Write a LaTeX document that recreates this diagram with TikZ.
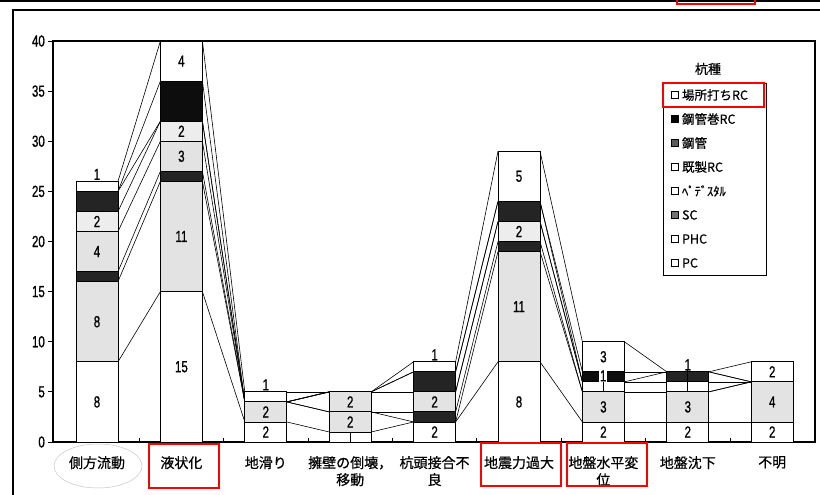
\documentclass[tikz,border=0pt]{standalone}
\usepackage{fontspec}
\newfontfamily\cjk[FakeBold=0.6]{Noto Sans CJK JP}
\newfontfamily\numf[FakeStretch=0.72, FakeBold=0.8]{Liberation Sans}
\usetikzlibrary{positioning}

\tikzset{
	seg/.style={draw=black, line width=0.9pt},
	wht/.style={seg, fill=white},
	dot/.style={seg, fill=black!11},
	lite/.style={seg, fill=black!7},
	dark/.style={seg, fill=black!86},
	blk/.style={seg, fill=black!95},
	val/.style={font=\numf\fontsize{16}{16}\selectfont, inner sep=0pt},
	cat/.style={font=\cjk\fontsize{14}{17}\selectfont, align=center, anchor=north, inner sep=0pt},
	key/.style={font=\cjk\fontsize{12.5}{12.5}\selectfont, anchor=west, inner sep=0pt},
	swatch/.style={draw=black, line width=0.7pt, minimum size=7pt, inner sep=0pt},
	redbox/.style={draw=red, line width=2.2pt},
	sline/.style={line width=0.6pt}
}

\begin{document}
\begin{tikzpicture}[x=1pt, y=-1pt]
	\useasboundingbox (0,0) rectangle (820,495);
	\draw[line width=2pt] (0,1) -- (820,1);
	\draw[redbox] (677,-4) rectangle (755,4);
	\draw[line width=1.1pt] (13,495) -- (13,10) -- (820,10);
	\draw[gray!45, line width=0.5pt] (98,466) ellipse (44pt and 22pt);
	\draw[line width=1.1pt] (53,41) rectangle (815,442);
	\begin{scope}[shift={(0,442)}, y=10.025pt]
		\foreach \v in {0,5,...,40} {
			\draw[line width=0.9pt] (48,\v) -- (53,\v);
			\node[val, anchor=east] (tick\v) at (45,\v) {\v};
		}
		\foreach \k in {1,...,8}
			\draw[line width=0.8pt] (139.2+84.4*\k-84.4,0) -- (139.2+84.4*\k-84.4,0.4);
		\foreach \i/\segs in {
				1/{0/8/wht,8/16/dot,16/17/dark,17/21/dot,21/23/lite,23/25/dark,25/26/wht},
				2/{0/15/wht,15/26/dot,26/27/dark,27/30/dot,30/32/lite,32/36/blk,36/40/wht},
				3/{0/2/wht,2/4/dot,4/5/wht},
				4/{0/1/wht,1/3/dot,3/5/dot},
				5/{0/2/wht,2/3/dark,3/5/dot,5/7/dark,7/8/wht},
				6/{0/8/wht,8/19/dot,19/20/dark,20/22/lite,22/24/dark,24/29/wht},
				7/{0/2/wht,2/5/dot,5/6/wht,6/7/blk,7/10/wht},
				8/{0/2/wht,2/5/dot,5/6/wht,6/7/dark},
				9/{0/2/wht,2/6/dot,6/8/wht}} {
			\pgfmathsetmacro\cx{97+84.4*(\i-1)}
			\foreach \b/\t/\s in \segs
				\draw[\s] (\cx-21,\b) rectangle (\cx+21,\t);
		}
		\foreach \i/\cums in {
				1/{8,16,17,21,23,25,25,26},
				2/{15,26,27,30,32,32,36,40},
				3/{2,4,4,4,4,4,4,5},
				4/{1,3,3,5,5,5,5,5},
				5/{2,2,3,5,5,7,7,8},
				6/{8,19,20,22,22,24,24,29},
				7/{2,5,5,6,6,6,7,10},
				8/{2,5,5,6,6,7,7,7},
				9/{2,6,6,6,6,6,6,8}} {
			\pgfmathsetmacro\cx{97+84.4*(\i-1)}
			\foreach \c [count=\k] in \cums {
				\coordinate (L\i-\k) at (\cx-21,\c);
				\coordinate (R\i-\k) at (\cx+21,\c);
			}
		}
		\foreach \i [evaluate=\i as \j using int(\i+1)] in {1,...,8}
			\foreach \k in {1,...,8}
				\draw[sline] (R\i-\k) -- (L\j-\k);
		\draw[line width=0.8pt] (350.6,0) -- (350.6,1);
		\draw[line width=0.8pt] (603.2,5) -- (603.2,6.2);
		\draw[line width=0.8pt] (687.8,5) -- (687.8,7.2);
		\foreach \i/\v/\t [count=\n] in {
				1/4/8, 1/12/8, 1/19/4, 1/22/2, 1/26.7/1,
				2/7.5/15, 2/20.5/11, 2/28.5/3, 2/31/2, 2/38/4,
				3/1/2, 3/3/2, 3/5.7/1,
				4/2/2, 4/4/2,
				5/1/2, 5/4/2, 5/8.7/1,
				6/4/8, 6/13.5/11, 6/21/2, 6/26.5/5,
				7/1/2, 7/3.5/3, 7/8.5/3,
				8/1/2, 8/3.5/3, 8/7.7/1,
				9/1/2, 9/4/4, 9/7/2}
			\node[val] (lab\n) at (97+84.4*\i-84.4,\v) {\t};
		\node[val, fill=white, inner sep=0.6pt] (lab7x) at (603.2,6.6) {1};
	\end{scope}
	\foreach \i/\t in {1/側方流動, 2/液状化, 3/地滑り, 4/{擁壁の倒壊，\\移動}, 5/{杭頭接合不\\良},
			6/地震力過大, 7/{地盤水平変\\位}, 8/地盤沈下, 9/不明}
		\node[cat] (cat\i) at (97+84.4*\i-84.4,456) {\t};
	\draw[redbox] (149,444) rectangle (219,488);
	\draw[redbox] (481,443) rectangle (561,486);
	\draw[redbox] (567,443) rectangle (647,486);
	\node[font=\cjk\fontsize{13}{13}\selectfont] (ktitle) at (708,69) {杭種};
	\draw[line width=0.9pt] (663,83) rectangle (766,275);
	\foreach \t/\f [count=\n] in {場所打ちRC/white, 鋼管巻RC/black, 鋼管/black!65, 既製RC/white,
			ﾍﾟﾃﾞｽﾀﾙ/white, SC/black!55, PHC/white, PC/white} {
		\node[swatch, fill=\f] (sw\n) at (675,71+24*\n) {};
		\node[key, right=3pt of sw\n] (key\n) {\t};
	}
	\draw[redbox] (663,83) rectangle (764,107);
\end{tikzpicture}
\end{document}
